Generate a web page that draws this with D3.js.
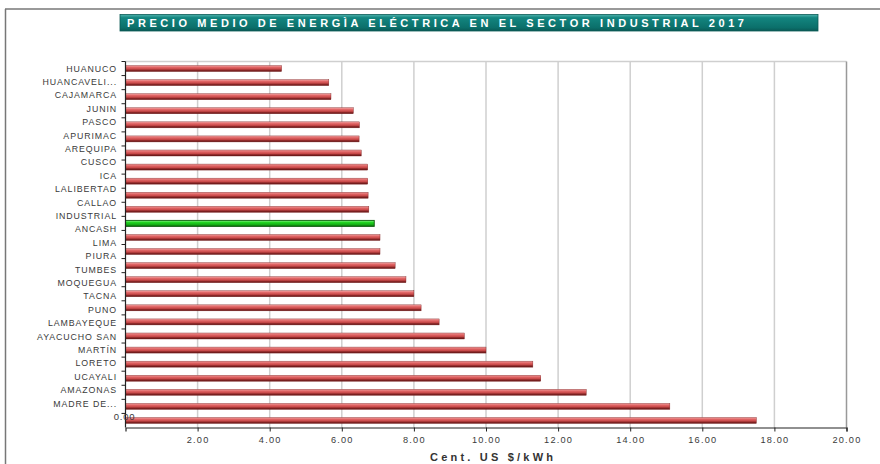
<!DOCTYPE html>
<html>
<head>
<meta charset="utf-8">
<script src="https://cdn.jsdelivr.net/npm/d3@7"></script>
<style>
  html, body { margin: 0; padding: 0; background: #fff; }
  svg { display: block; font-family: "Liberation Sans", Arial, sans-serif; }
</style>
</head>
<body>
<svg id="chart" width="880" height="464"></svg>
<script>
// Average industrial electricity price by region, 2017 (US cents/kWh)
const regions = [
  "HUANUCO", "HUANCAVELI...", "CAJAMARCA", "JUNIN", "PASCO", "APURIMAC",
  "AREQUIPA", "CUSCO", "ICA", "LALIBERTAD", "CALLAO", "INDUSTRIAL",
  "ANCASH", "LIMA", "PIURA", "TUMBES", "MOQUEGUA", "TACNA", "PUNO",
  "LAMBAYEQUE", "AYACUCHO SAN", "MARTÍN", "LORETO", "UCAYALI",
  "AMAZONAS", "MADRE DE..."
];
const prices = [
  4.33, 5.64, 5.70, 6.32, 6.49, 6.48, 6.54, 6.72, 6.72, 6.73, 6.75, 6.90,
  7.06, 7.06, 7.48, 7.78, 8.00, 8.20, 8.70, 9.40, 10.00, 11.30, 11.52,
  12.78, 15.10, 17.50
];
const highlighted = ["INDUSTRIAL"];
const xTicks = [2, 4, 6, 8, 10, 12, 14, 16, 18, 20];
const chartTitle = "PRECIO MEDIO DE ENERGÌA ELÉCTRICA EN EL SECTOR INDUSTRIAL  2017";
const axisTitle = "Cent. US $/kWh";

const svg = d3.select("#chart");
const plot = { left: 125.5, right: 846.5, top: 61.5, bottom: 427.5 };

const x = d3.scaleLinear().domain([0, 20]).range([plot.left, plot.right]);
const yBar = d3.scaleBand().domain(regions).range([plot.top, plot.bottom]).paddingInner(0);
const yLabel = d3.scalePoint().domain(regions).range([68.5, 403.5]);

// gradients for the bevelled bars
const defs = svg.append("defs");
function barGradient(id, stops) {
  const g = defs.append("linearGradient").attr("id", id)
    .attr("x1", 0).attr("y1", 0).attr("x2", 0).attr("y2", 1);
  stops.forEach(([o, c]) => g.append("stop").attr("offset", o).attr("stop-color", c));
}
barGradient("redBar", [["0%", "#f4a3a3"], ["30%", "#e06565"], ["58%", "#c94a4a"], ["78%", "#8a2727"], ["100%", "#5e1414"]]);
barGradient("greenBar", [["0%", "#8ef58e"], ["35%", "#22d422"], ["75%", "#14a814"], ["100%", "#0a5e0a"]]);
barGradient("titleBg", [["0%", "#4fb3ad"], ["20%", "#13857f"], ["80%", "#0b6f6a"], ["100%", "#0a5955"]]);

// outer frame
svg.append("line").attr("x1", 5).attr("x2", 880).attr("y1", 9).attr("y2", 9)
  .attr("stroke", "#777").attr("stroke-width", 1.5);
svg.append("line").attr("x1", 5.5).attr("x2", 5.5).attr("y1", 9).attr("y2", 464)
  .attr("stroke", "#777").attr("stroke-width", 1.5);

// title banner
svg.append("rect").attr("x", 120).attr("y", 14.5).attr("width", 698).attr("height", 16.5)
  .attr("fill", "url(#titleBg)").attr("stroke", "#0a5a56").attr("stroke-width", 0.8);
svg.append("text").attr("x", 127).attr("y", 26.8)
  .attr("fill", "#fff").attr("font-weight", "bold").attr("font-size", 11)
  .attr("textLength", 617).attr("lengthAdjust", "spacing")
  .text(chartTitle);

// grid lines and plot border
svg.append("g").selectAll("line").data(xTicks.slice(0, -1)).join("line")
  .attr("x1", d => x(d)).attr("x2", d => x(d))
  .attr("y1", plot.top).attr("y2", plot.bottom)
  .attr("stroke", "#cfcfcf").attr("stroke-width", 1.5);
svg.append("line").attr("x1", plot.left).attr("x2", plot.right)
  .attr("y1", plot.top).attr("y2", plot.top)
  .attr("stroke", "#cfcfcf").attr("stroke-width", 1.5);
svg.append("line").attr("x1", plot.right).attr("x2", plot.right)
  .attr("y1", plot.top).attr("y2", plot.bottom)
  .attr("stroke", "#999").attr("stroke-width", 1.5);

// bars
const barH = 6;
svg.append("g").selectAll("rect").data(regions).join("rect")
  .attr("x", x(0))
  .attr("y", d => yBar(d) + yBar.bandwidth() / 2 - barH / 2)
  .attr("width", (d, i) => x(prices[i]) - x(0))
  .attr("height", barH)
  .attr("fill", d => highlighted.includes(d) ? "url(#greenBar)" : "url(#redBar)")
  .attr("stroke", d => highlighted.includes(d) ? "#0b5a0b" : "#7a2020")
  .attr("stroke-width", d => highlighted.includes(d) ? 0.9 : 0.4);

// y axis with ticks at band boundaries
const yAxisG = svg.append("g");
yAxisG.append("line").attr("x1", plot.left).attr("x2", plot.left)
  .attr("y1", plot.top).attr("y2", plot.bottom).attr("stroke", "#222").attr("stroke-width", 1.2);
yAxisG.selectAll("line.tick").data(regions).join("line").attr("class", "tick")
  .attr("x1", plot.left - 4).attr("x2", plot.left)
  .attr("y1", d => yBar(d)).attr("y2", d => yBar(d))
  .attr("stroke", "#222").attr("stroke-width", 1);

// category labels
svg.append("g").selectAll("text").data(regions).join("text")
  .attr("x", 117).attr("y", d => yLabel(d))
  .attr("dy", "0.35em").attr("text-anchor", "end")
  .attr("font-size", 8.8).attr("letter-spacing", 0.9).attr("fill", "#3a3a3a")
  .text(d => d);

// x axis
const xAxis = d3.axisBottom(x).tickValues(xTicks).tickSize(4).tickFormat(d3.format(".2f"));
const xAxisG = svg.append("g").attr("transform", `translate(0,${plot.bottom})`).call(xAxis);
xAxisG.select(".domain").attr("stroke", "#222").attr("stroke-width", 1.2);
xAxisG.selectAll(".tick line").attr("stroke", "#222");
xAxisG.selectAll(".tick text").attr("font-size", 9.2).attr("letter-spacing", 1.2)
  .attr("fill", "#3a3a3a").attr("font-family", "Liberation Sans, Arial, sans-serif").attr("dy", "0.9em");

// zero label sits up against the last bar
svg.append("text").attr("x", x(0) - 1).attr("y", 417).attr("dy", "0.35em")
  .attr("text-anchor", "middle").attr("font-size", 9.5).attr("letter-spacing", 0.8)
  .attr("fill", "#3a3a3a").text(d3.format(".2f")(0));

// axis title
svg.append("text").attr("x", 430).attr("y", 461)
  .attr("font-weight", "bold").attr("font-size", 11).attr("fill", "#333")
  .attr("textLength", 123).attr("lengthAdjust", "spacing")
  .text(axisTitle);
</script>
</body>
</html>
